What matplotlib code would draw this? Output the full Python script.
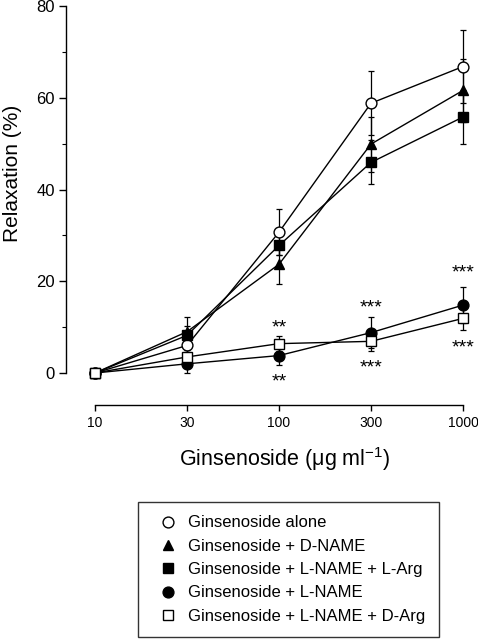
import matplotlib
matplotlib.use("Agg")
import matplotlib.pyplot as plt
import numpy as np

plt.rcParams['font.family'] = ['Liberation Sans', 'DejaVu Sans']
plt.rcParams['mathtext.fontset'] = 'custom'
plt.rcParams['mathtext.rm'] = 'Liberation Sans'

# concentrations (ug/ml) and relaxation (%)
conc = ['10', '30', '100', '300', '1000']
alone = [0, 6.0, 30.7, 58.8, 66.8]
alone_err = [0, 1.5, 5.0, 7.0, 8.0]
dname = [0, 9.0, 23.7, 49.9, 61.6]
dname_err = [0, 3.2, 4.2, 6.0, 6.8]
lname_larg = [0, 8.2, 27.8, 45.9, 55.8]
lname_larg_err = [0, 2.0, 2.0, 4.8, 5.8]
lname = [0, 2.0, 3.8, 8.8, 14.8]
lname_err = [0, 2.0, 2.0, 3.4, 4.0]
lname_darg = [0, 3.5, 6.4, 6.9, 11.9]
lname_darg_err = [0, 1.5, 1.6, 2.0, 2.6]

# significance marks: (x index, y value, text)
stars = [(2, 10.8, '**'), (2, -0.9, '**'),
         (3, 15.2, '***'), (3, 2.2, '***'),
         (4, 22.8, '***'), (4, 6.4, '***')]

labels = ['Ginsenoside alone', 'Ginsenoside + D-NAME',
          'Ginsenoside + L-NAME + L-Arg', 'Ginsenoside + L-NAME',
          'Ginsenoside + L-NAME + D-Arg']

fig = plt.figure(figsize=(4.78, 6.40), dpi=100)
ax = fig.add_axes([66 / 478, 1 - 373 / 640, (477 - 66) / 478, 367 / 640])

x = np.arange(len(conc))
series = [
    (alone, alone_err, 'o', 'white', 7.8),
    (dname, dname_err, '^', 'black', 7.8),
    (lname_larg, lname_larg_err, 's', 'black', 7.2),
    (lname, lname_err, 'o', 'black', 7.8),
    (lname_darg, lname_darg_err, 's', 'white', 7.2),
]
handles = []
for (y, e, m, fc, ms), lab in zip(series, labels):
    ax.errorbar(x, y, yerr=e, color='black', lw=1.0, elinewidth=0.9,
                capsize=2.2, capthick=0.9, clip_on=False, zorder=2,
                fmt='none')
    h, = ax.plot(x, y, color='black', lw=1.0, marker=m, ms=ms,
                 mfc=fc, mec='black', mew=1.0, clip_on=False, zorder=3,
                 label=lab)
    handles.append(h)

# asterisk glyph sits high in its box, so shift the text down a little
for xi, yv, t in stars:
    ax.text(xi, yv - 1.0, t, ha='center', va='center', fontsize=14)

ax.set_xlim(-29 / 92, 4 + 14 / 92)
ax.set_ylim(0, 80)
ax.set_xticks(x)
ax.set_xticklabels(conc, fontsize=11.5)
ax.set_yticks([0, 20, 40, 60, 80])
ax.set_yticks([10, 30, 50, 70], minor=True)
ax.tick_params(axis='y', labelsize=12, length=5, width=1, pad=3)
ax.tick_params(axis='y', which='minor', length=3, width=0.8)
ax.tick_params(axis='x', length=4, width=1, pad=4)
for s in ['top', 'right']:
    ax.spines[s].set_visible(False)
ax.spines['bottom'].set_position(('outward', 23))
ax.spines['bottom'].set_bounds(0, 4)
ax.spines['left'].set_bounds(0, 80)
ax.spines['left'].set_linewidth(1)
ax.spines['bottom'].set_linewidth(1)

ax.set_ylabel('Relaxation (%)', fontsize=15, labelpad=10)
ax.yaxis.label.set_y(0.545)
ax.set_xlabel('Ginsenoside (\u03bcg ml$\\mathregular{^{-1}}$)', fontsize=15.5,
              labelpad=11)
ax.xaxis.label.set_x(0.533)

leg = fig.legend(handles=[plt.Line2D([], [], ls='none', marker=h.get_marker(),
                                     ms=h.get_markersize(), mfc=h.get_markerfacecolor(),
                                     mec='black', mew=1.0) for h in handles],
                 labels=labels, loc='upper left',
                 bbox_to_anchor=(138 / 478, 1 - 502 / 640), fontsize=12,
                 frameon=True, fancybox=False, edgecolor='black',
                 handlelength=2.0, handletextpad=0.2, labelspacing=0.5,
                 borderpad=0.8, borderaxespad=0)
leg.get_frame().set_linewidth(1.0)

fig.savefig('out.png', dpi=100)
